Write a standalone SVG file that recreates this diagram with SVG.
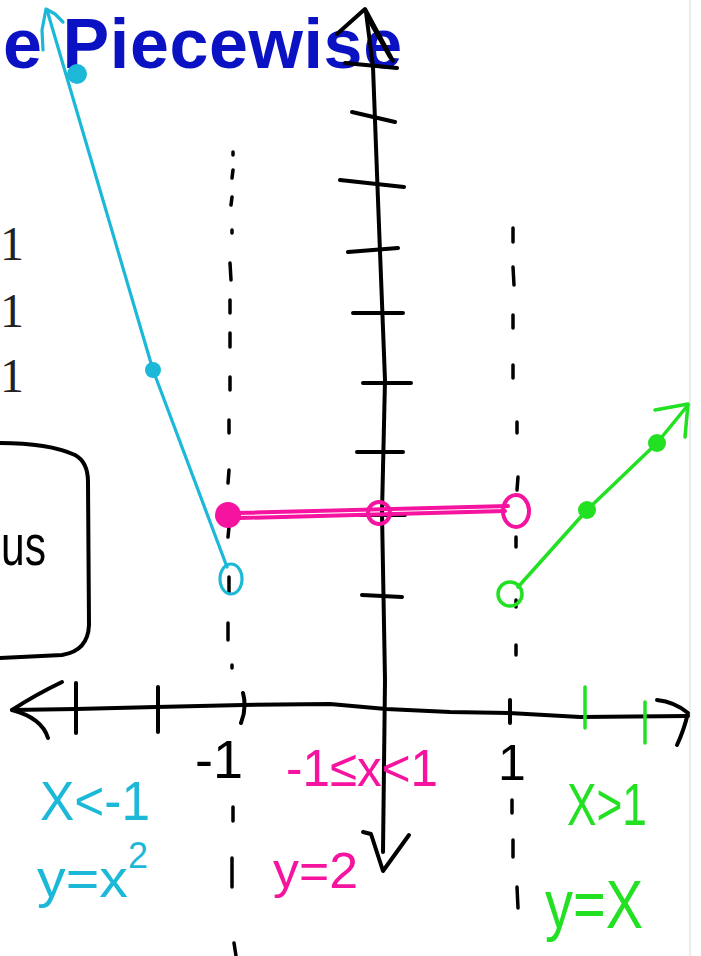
<svg xmlns="http://www.w3.org/2000/svg" width="701" height="956" viewBox="0 0 701 956">
<style>
.ink{fill:none;stroke:#000;stroke-width:4;stroke-linecap:round;stroke-linejoin:round}
.dash{fill:none;stroke:#000;stroke-width:3.5;stroke-linecap:round}
.cy{fill:none;stroke:#1cb8d8;stroke-width:3.2;stroke-linecap:round;stroke-linejoin:round}
.pk{fill:none;stroke:#f5139f;stroke-width:4;stroke-linecap:round;stroke-linejoin:round}
.gr{fill:none;stroke:#22e022;stroke-width:3.5;stroke-linecap:round;stroke-linejoin:round}
.hw{font-family:"Liberation Sans",Arial,sans-serif}
</style>
<rect x="0" y="0" width="701" height="956" fill="#fff"/>
<line x1="690" y1="0" x2="690" y2="956" stroke="#e6e6e6" stroke-width="1.5"/>

<g id="background-text">
<text x="3" y="68" font-family="Liberation Sans,Arial,sans-serif" font-weight="bold" font-size="70" letter-spacing="0.6" fill="#0a12c4">e Piecewise</text>
<text x="0" y="260" font-family="Liberation Serif,serif" font-size="48" fill="#222">1</text>
<text x="0" y="327" font-family="Liberation Serif,serif" font-size="48" fill="#222">1</text>
<text x="0" y="392" font-family="Liberation Serif,serif" font-size="48" fill="#222">1</text>
</g>

<g id="box">
<path class="ink" d="M0,443 C30,443 55,446 75,455 Q88,462 88,482 L89,625 Q88,651 62,655 L0,658"/>
<text class="hw" x="1" y="565" font-size="58" textLength="45" lengthAdjust="spacingAndGlyphs" fill="#000">us</text>
</g>

<g id="connectors">
<g id="dashed-lines">
<path class="dash" d="M233,152 L233,155 M233,170 L232,178 M232,197 L231,205 M232,230 L232,233 M230,263 L231,280 M230,300 L230,313 M230,333 L230,347 M230,377 L230,390 M229,420 L229,433 M229,470 L228,483 M229,527 L228,537 M229,577 L229,593 M228,623 L228,640 M232,665 L232,668 M233,807 L233,821 M232,858 L232,887 M234,943 L236,956"/>
<path class="dash" d="M513,228 L513,242 M513,267 L514,285 M513,315 L513,328 M513,365 L513,378 M517,422 L517,433 M518,477 L517,490 M516,537 L516,547 M516,600 L516,607 M516,645 L516,655 M512,800 L512,813 M513,840 L513,857 M517,887 L518,908"/>
</g>

<g id="y-axis">
<path class="ink" d="M366,12 L373,67 L378,200 L385,380 L382,513 L385,680 L383,852"/>
<path class="ink" d="M337,34 L365,9 L393,61 M368,18 L390,57"/>
<path class="ink" d="M363,832 L371,834 L383,871 L409,835"/>
<path class="ink" d="M345,63 L397,68 M352,112 L395,122 M340,180 L404,187 M348,252 L398,248 M353,313 L403,313 M363,383 L411,383 M357,452 L403,452 M360,515 L405,515 M362,595 L402,597"/>
</g>

<g id="x-axis">
<path class="ink" d="M12,710 L76,709 L156,707 L243,705 L330,704 L386,709 L450,712 L509,713 L580,717 L688,716"/>
<path class="ink" d="M62,682 Q35,695 12,710 Q42,718 48,738"/>
<path class="ink" d="M657,700 Q675,702 688,713 Q684,730 677,745"/>
<path class="ink" d="M76,683 L76,733 M158,687 L158,732 M243,693 Q247,708 241,723 M510,700 L510,723"/>
<path class="gr" d="M585,687 L585,728 M645,702 L645,743"/>
</g>
</g>

<g id="piece-cyan">
<path class="cy" d="M47,10 L153,370 L227,567"/>
<path class="cy" d="M43,50 L42,30 L46,9 L55,14 L63,22"/>
<circle cx="77" cy="74" r="10" fill="#1cb8d8"/>
<circle cx="153" cy="370" r="8" fill="#1cb8d8"/>
<ellipse class="cy" cx="231" cy="579" rx="11" ry="15"/>
<text class="hw" x="40" y="820" font-size="56" textLength="110" lengthAdjust="spacingAndGlyphs" fill="#1cb8d8">X&lt;-1</text>
<text class="hw" x="37" y="897" font-size="54" textLength="91" lengthAdjust="spacingAndGlyphs" fill="#1cb8d8">y=x</text>
<text class="hw" x="128" y="868" font-size="36" fill="#1cb8d8">2</text>
</g>

<g id="piece-pink">
<path class="pk" d="M238,513 L508,506 M240,518 L505,511"/>
<circle cx="228" cy="515" r="13" fill="#f5139f"/>
<circle class="pk" cx="379" cy="513" r="11"/>
<ellipse class="pk" cx="516" cy="511" rx="13" ry="16"/>
<text class="hw" x="286" y="786" font-size="52" textLength="152" lengthAdjust="spacingAndGlyphs" fill="#f5139f">-1≤x&lt;1</text>
<text class="hw" x="273" y="888" font-size="50" textLength="85" lengthAdjust="spacingAndGlyphs" fill="#f5139f">y=2</text>
</g>

<g id="piece-green">
<path class="gr" d="M518,587 L587,510 L657,443 L688,405"/>
<path class="gr" d="M655,410 L688,404 L685,437"/>
<circle class="gr" cx="510" cy="594" r="12"/>
<circle cx="587" cy="510" r="9" fill="#22e022"/>
<circle cx="657" cy="443" r="9" fill="#22e022"/>
<text class="hw" x="567" y="825" font-size="60" textLength="80" lengthAdjust="spacingAndGlyphs" fill="#22e022">X&gt;1</text>
<text class="hw" x="545" y="928" font-size="68" textLength="98" lengthAdjust="spacingAndGlyphs" fill="#22e022">y=X</text>
</g>

<g id="tick-labels">
<text class="hw" x="195" y="778" font-size="54" fill="#000">-1</text>
<text class="hw" x="512" y="780" font-size="50" text-anchor="middle" fill="#000">1</text>
</g>
</svg>
